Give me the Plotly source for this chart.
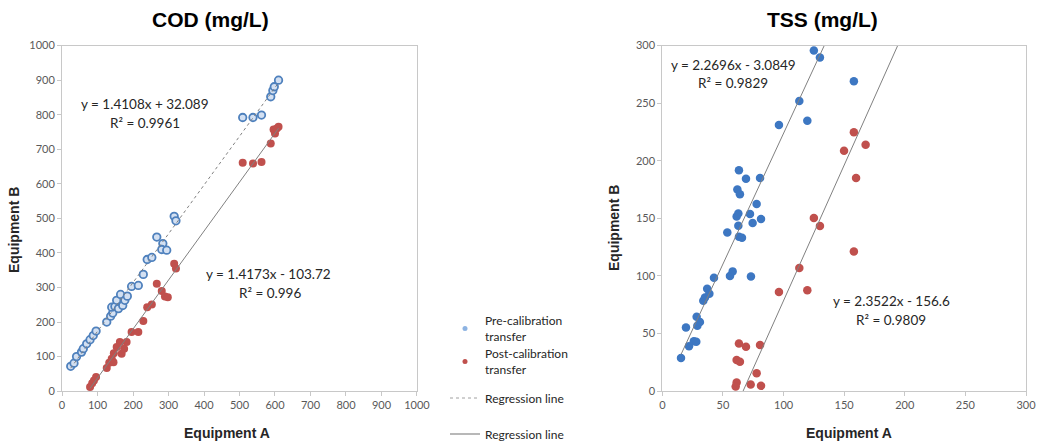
import plotly.graph_objects as go

# ---------------- COD data ----------------
cod_pre_x = [24.5, 33.8, 41, 55, 60, 69.5, 79, 88, 96, 126, 137, 143, 140, 149, 154, 159, 165, 171, 177, 184,
             196, 215, 229, 240, 253, 267, 284, 281, 295, 316, 321, 509, 538, 562, 588, 594, 598, 610]
cod_pre_y = [72, 81, 100, 113, 123, 137, 149, 161, 174, 200, 217, 226, 243, 245, 263, 239, 280, 248, 263, 275,
             303, 306, 338, 381, 387, 446, 427, 410, 408, 506, 493, 792, 792, 799, 852, 870, 881, 900]
cod_post_x = [79, 85, 90, 96, 126, 133, 145, 140, 146, 154, 163, 168, 175, 182, 196, 215, 229, 240, 253, 267,
              281, 290, 298, 316, 321, 509, 538, 562, 588, 596, 600, 605, 610]
cod_post_y = [12, 23, 31, 41, 67, 82, 84, 94, 110, 128, 142, 108, 123, 142, 171, 171, 203, 243, 251, 311,
              290, 274, 272, 369, 355, 661, 659, 663, 717, 757, 746, 760, 765]
cod_fit_pre = (1.4108, 32.089)
cod_fit_post = (1.4173, -103.72)

# ---------------- TSS data ----------------
tss_pre_x = [15.4, 19.5, 22, 26, 28, 28.3, 28.9, 31, 33.8, 35.2, 37, 38.8, 42.6, 53.6, 55.8, 58, 61.3, 61.9,
             62.7, 62.7, 63.2, 64, 63.2, 65.7, 69, 72.3, 73.1, 74.5, 77.8, 80.6, 81.4, 96.2, 113, 119.6, 125, 130, 158]
tss_pre_y = [28.7, 55.3, 39, 43.4, 43, 64.6, 56.8, 60, 78.5, 81.4, 89, 84.5, 98.4, 137.8, 99.9, 104, 151.7, 175,
             154.3, 143.6, 191.7, 171, 134, 133.2, 184.5, 153.8, 99.6, 146, 162.4, 185, 149.4, 231, 252, 234.8,
             295.7, 289.6, 269]
tss_post_x = [63.2, 69, 80.6, 61.3, 64, 61.3, 60.5, 72.9, 77.8, 81.4, 96.2, 113, 119.6, 125, 130, 149.9, 158,
              158, 159.8, 167.7]
tss_post_y = [41.4, 38.5, 40, 27, 25.5, 7.5, 4, 5.8, 15.6, 4.6, 86, 107, 87.7, 150.3, 143.3, 208.8, 224.7,
              121.3, 185, 214]
tss_fit_pre = (2.2696, -3.0849)
tss_fit_post = (2.3522, -156.6)

eq_texts = ["y = 1.4108x + 32.089", "R² = 0.9961", "y = 1.4173x - 103.72", "R² = 0.996",
            "y = 2.2696x - 3.0849", "R² = 0.9829", "y = 2.3522x - 156.6", "R² = 0.9809"]
legend_names = ["Pre-calibration<br>transfer", "Post-calibration<br>transfer", "Regression line", "Regression line"]

BLUE = "#4f81bd"
BLUE_FILL = "#d3e0f2"
RED = "#c0504d"
TSS_BLUE = "#3d77c2"
LINE = "#808080"
FONT = "Lato"


def fit_line(x0, x1, fit):
    return [x0, x1], [fit[0] * x0 + fit[1], fit[0] * x1 + fit[1]]


fig = go.Figure()

# COD markers
fig.add_trace(go.Scatter(x=cod_pre_x, y=cod_pre_y, mode="markers", showlegend=False,
                         marker=dict(size=7.5, color=BLUE_FILL, line=dict(color=BLUE, width=1.8)),
                         xaxis="x", yaxis="y"))
fig.add_trace(go.Scatter(x=cod_post_x, y=cod_post_y, mode="markers", showlegend=False,
                         marker=dict(size=8, color=RED, line=dict(color=RED, width=0)),
                         xaxis="x", yaxis="y"))
lx, ly = fit_line(min(cod_pre_x), max(cod_pre_x), cod_fit_pre)
fig.add_trace(go.Scatter(x=lx, y=ly, mode="lines", showlegend=False,
                         line=dict(color=LINE, width=1, dash="dot"), xaxis="x", yaxis="y"))
lx, ly = fit_line(min(cod_post_x), max(cod_post_x), cod_fit_post)
fig.add_trace(go.Scatter(x=lx, y=ly, mode="lines", showlegend=False,
                         line=dict(color=LINE, width=1), xaxis="x", yaxis="y"))

# TSS markers
fig.add_trace(go.Scatter(x=tss_pre_x, y=tss_pre_y, mode="markers", showlegend=False,
                         marker=dict(size=8.5, color=TSS_BLUE, line=dict(width=0)),
                         xaxis="x2", yaxis="y2"))
fig.add_trace(go.Scatter(x=tss_post_x, y=tss_post_y, mode="markers", showlegend=False,
                         marker=dict(size=8.5, color=RED, line=dict(width=0)),
                         xaxis="x2", yaxis="y2"))
lx, ly = fit_line(min(tss_pre_x), max(tss_pre_x), tss_fit_pre)
fig.add_trace(go.Scatter(x=lx, y=ly, mode="lines", showlegend=False,
                         line=dict(color=LINE, width=1), xaxis="x2", yaxis="y2"))
lx, ly = fit_line(min(tss_post_x), 300, tss_fit_post)
fig.add_trace(go.Scatter(x=lx, y=ly, mode="lines", showlegend=False,
                         line=dict(color=LINE, width=1), xaxis="x2", yaxis="y2"))

# Legend-only entries, each in its own legend for exact vertical placement
fig.add_trace(go.Scatter(x=[None], y=[None], mode="markers", name=legend_names[0], legend="legend",
                         marker=dict(size=5, color="#8db3e2"), xaxis="x", yaxis="y"))
fig.add_trace(go.Scatter(x=[None], y=[None], mode="markers", name=legend_names[1], legend="legend2",
                         marker=dict(size=5, color=RED), xaxis="x", yaxis="y"))
fig.add_trace(go.Scatter(x=[None], y=[None], mode="lines", name=legend_names[2], legend="legend3",
                         line=dict(color="#a0a0a0", width=1, dash="dot"), xaxis="x", yaxis="y"))
fig.add_trace(go.Scatter(x=[None], y=[None], mode="lines", name=legend_names[3], legend="legend4",
                         line=dict(color="#a0a0a0", width=1.5), xaxis="x", yaxis="y"))

axis_common = dict(showgrid=False, zeroline=False, showline=True, linecolor="#c8c8c8", linewidth=1,
                   mirror=True, ticks="outside", ticklen=4, tickcolor="#c8c8c8",
                   tickfont=dict(family=FONT, size=11, color="#595959"))
ydom = [0.117, 0.897]


def leg(ypix):
    return dict(x=445 / 1037, y=1 - ypix / 443, xanchor="left", yanchor="middle", bgcolor="rgba(0,0,0,0)",
                font=dict(family=FONT, size=12, color="#262626"))


fig.update_layout(
    width=1037, height=443,
    margin=dict(l=0, r=0, t=0, b=0, autoexpand=False),
    paper_bgcolor="white", plot_bgcolor="white",
    font=dict(family=FONT, color="#262626"),
    xaxis=dict(domain=[0.0598, 0.4021], range=[0, 1000], dtick=100, anchor="y", **axis_common),
    yaxis=dict(domain=ydom, range=[0, 1000], dtick=100, anchor="x", **axis_common),
    xaxis2=dict(domain=[0.6387, 0.9894], range=[0, 300], dtick=50, anchor="y2", **axis_common),
    yaxis2=dict(domain=ydom, range=[0, 300], dtick=50, anchor="x2", **axis_common),
    legend=leg(329), legend2=leg(362), legend3=leg(398), legend4=leg(434),
)

ann = []
title_font = dict(family="Liberation Sans", size=21, color="black")
ann.append(dict(text="<b>COD (mg/L)</b>", x=210 / 1037, y=1 - 20 / 443, xref="paper", yref="paper",
                xanchor="center", yanchor="middle", showarrow=False, font=title_font))
ann.append(dict(text="<b>TSS (mg/L)</b>", x=822 / 1037, y=1 - 20 / 443, xref="paper", yref="paper",
                xanchor="center", yanchor="middle", showarrow=False, font=title_font))
ax_font = dict(family="Liberation Sans", size=14, color="#262626")
ann.append(dict(text="<b>Equipment A</b>", x=227 / 1037, y=1 - 433 / 443, xref="paper", yref="paper",
                xanchor="center", yanchor="middle", showarrow=False, font=ax_font))
ann.append(dict(text="<b>Equipment A</b>", x=849 / 1037, y=1 - 433 / 443, xref="paper", yref="paper",
                xanchor="center", yanchor="middle", showarrow=False, font=ax_font))
ann.append(dict(text="<b>Equipment B</b>", x=14 / 1037, y=1 - 230 / 443, xref="paper", yref="paper",
                xanchor="center", yanchor="middle", showarrow=False, textangle=-90, font=ax_font))
ann.append(dict(text="<b>Equipment B</b>", x=614 / 1037, y=1 - 228 / 443, xref="paper", yref="paper",
                xanchor="center", yanchor="middle", showarrow=False, textangle=-90, font=ax_font))

eq_font = dict(family=FONT, size=13.5, color="#262626")
eq_pos = [("x", "y", 234, 831), ("x", "y", 234, 776), ("x", "y", 583, 338), ("x", "y", 586, 283),
          ("x2", "y2", 58.3, 283), ("x2", "y2", 58.3, 267.6), ("x2", "y2", 188.7, 78), ("x2", "y2", 188.7, 61.7)]
for t, (xr, yr, xx, yy) in zip(eq_texts, eq_pos):
    ann.append(dict(text=t, x=xx, y=yy, xref=xr, yref=yr, xanchor="center", showarrow=False, font=eq_font))

fig.update_layout(annotations=ann)
fig.write_html("out.html")
